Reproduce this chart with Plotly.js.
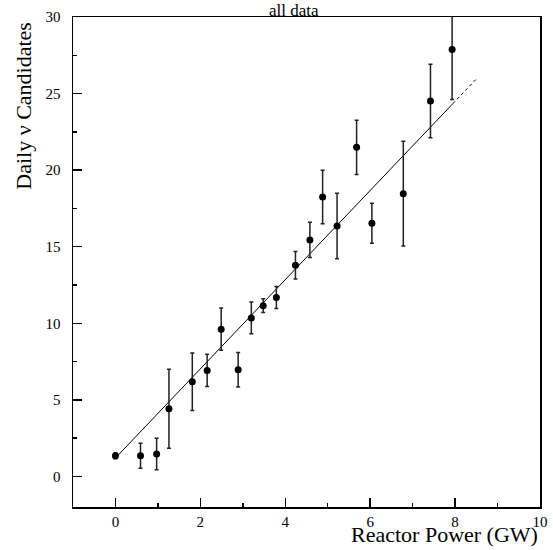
<!DOCTYPE html>
<html>
<head>
<meta charset="utf-8">
<script src="https://cdn.plot.ly/plotly-3.0.1.min.js"></script>
<style>html,body{margin:0;padding:0;background:#fff;}#chart{width:553px;height:550px;}</style>
</head>
<body>
<div id="chart"></div>
<script>
// Reactor power (GW)
var power = [0, 0.59, 0.97, 1.26, 1.81, 2.16, 2.49, 2.89, 3.2, 3.48, 3.79, 4.24, 4.58, 4.88, 5.22, 5.68, 6.04, 6.78, 7.42, 7.93];
// Daily neutrino candidates
var candidates = [1.35, 1.35, 1.46, 4.42, 6.18, 6.92, 9.61, 6.96, 10.35, 11.15, 11.68, 13.79, 15.44, 18.24, 16.35, 21.49, 16.53, 18.46, 24.51, 27.88];
// Symmetric errors
var errors = [0.2, 0.82, 1.03, 2.58, 1.87, 1.05, 1.38, 1.13, 1.04, 0.45, 0.72, 0.9, 1.15, 1.75, 2.14, 1.77, 1.31, 3.42, 2.4, 3.26];
// Linear fit (solid part and dashed extrapolation)
var fitX = [0, 7.95];
var fitY = [1.2, 24.35];
var extX = [7.95, 8.5];
var extY = [24.35, 25.95];

var xTickVals = [0, 2, 4, 6, 8, 10];
var yTickVals = [0, 5, 10, 15, 20, 25, 30];

var serif = 'Liberation Serif, Times New Roman, serif';

var traces = [
  {x: fitX, y: fitY, mode: 'lines', line: {color: '#000', width: 1}, hoverinfo: 'skip', showlegend: false},
  {x: extX, y: extY, mode: 'lines', line: {color: '#000', width: 1, dash: '3px,3px'}, hoverinfo: 'skip', showlegend: false},
  {x: power, y: candidates, mode: 'markers', type: 'scatter',
   marker: {color: '#000', size: 7},
   error_y: {type: 'data', array: errors, visible: true, color: '#222', thickness: 1.5, width: 2},
   showlegend: false}
];

var layout = {
  width: 553, height: 550,
  margin: {l: 73, r: 13, t: 17, b: 43},
  paper_bgcolor: '#fff', plot_bgcolor: '#fff',
  font: {family: serif, color: '#000', size: 15},
  showlegend: false,
  xaxis: {
    range: [-1, 10], tickvals: xTickVals, ticktext: xTickVals.map(String),
    ticks: 'inside', ticklen: 9, tickwidth: 1.5, tickcolor: '#000',
    minor: {dtick: 1, tick0: 0, ticks: 'inside', ticklen: 4, tickwidth: 1.5, tickcolor: '#000'},
    showline: true, mirror: true, linecolor: '#000', linewidth: 1.5,
    showgrid: false, zeroline: false,
    tickfont: {family: serif, size: 15, color: '#000'}
  },
  yaxis: {
    range: [-2, 30], tickvals: yTickVals, ticktext: yTickVals.map(String),
    ticks: 'inside', ticklen: 9, tickwidth: 1.5, tickcolor: '#000',
    minor: {dtick: 2.5, tick0: 0, ticks: 'inside', ticklen: 4, tickwidth: 1.5, tickcolor: '#000'},
    showline: true, mirror: true, linecolor: '#000', linewidth: 1.5,
    showgrid: false, zeroline: false, ticklabelstandoff: 8,
    tickfont: {family: serif, size: 15, color: '#000'}
  },
  annotations: [
    {text: 'all data', xref: 'paper', yref: 'paper', x: 0.473, y: 1.0, yshift: 7, xanchor: 'center', yanchor: 'middle',
     showarrow: false, font: {family: serif, size: 17, color: '#000'}},
    {text: 'Reactor Power (GW)', xref: 'paper', yref: 'paper', x: 1.0, y: 0, yshift: -27, xanchor: 'right', yanchor: 'middle',
     showarrow: false, font: {family: serif, size: 22, color: '#000'}},
    {text: 'Daily \u03bd Candidates', xref: 'paper', yref: 'paper', x: -0.106, y: 0.82, xanchor: 'center', yanchor: 'middle',
     textangle: -90, showarrow: false, font: {family: serif, size: 22, color: '#000'}}
  ]
};

Plotly.newPlot('chart', traces, layout, {staticPlot: true, displayModeBar: false});
</script>
</body>
</html>
